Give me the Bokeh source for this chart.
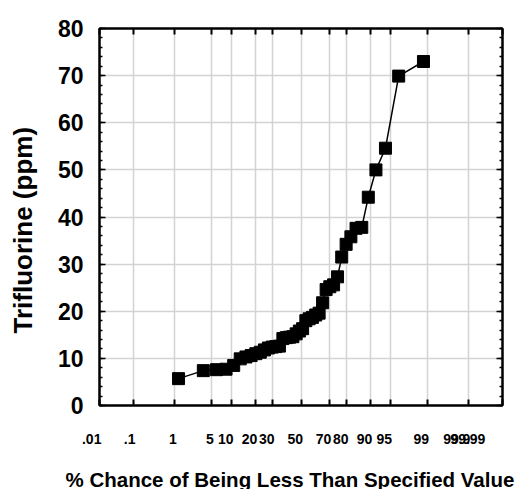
from statistics import NormalDist
from bokeh.plotting import figure
from bokeh.models import FixedTicker, LinearAxis, Title, Range1d, SingleIntervalTicker
from bokeh.embed import file_html
from bokeh.resources import INLINE

# cumulative probability (%) of each sorted sample and its value
pct = [1.19, 3.57, 5.95, 8.33, 10.71, 13.10, 15.48, 17.86, 20.24, 22.62,
       25.00, 27.38, 29.76, 32.14, 34.52, 36.90, 39.29, 41.67, 44.05, 46.43,
       48.81, 51.19, 53.57, 55.95, 58.33, 60.71, 63.10, 65.48, 67.86, 70.24,
       72.62, 75.00, 77.38, 79.76, 82.14, 84.52, 86.90, 89.29, 91.67, 94.05,
       96.43, 98.81]
ppm = [5.7, 7.4, 7.6, 7.7, 8.5, 9.9, 10.3, 10.6, 11.0, 11.3,
       11.8, 12.2, 12.4, 12.5, 12.6, 14.2, 14.4, 14.5, 14.6, 15.2,
       15.8, 16.3, 18.0, 18.4, 18.7, 19.2, 19.6, 21.8, 24.6, 25.2,
       25.6, 27.3, 31.5, 34.2, 35.8, 37.6, 37.8, 44.2, 50.0, 54.6,
       69.9, 73.0]

tick_pct = [0.01, 0.1, 1, 5, 10, 20, 30, 50, 70, 80, 90, 95, 99, 99.9, 99.99]
tick_labels = [".01", ".1", "1", "5", "10", "20", "30", "50", "70", "80",
               "90", "95", "99", "99.9", "99.99"]

nd = NormalDist()
def z(p):
    return round(nd.inv_cdf(p / 100.0), 6)

xs = [z(p) for p in pct]
xticks = [z(p) for p in tick_pct]

# labels sit to the left of their tick (right-aligned): pad with no-break spaces
def right_aligned(label):
    n = 2 * sum(c.isdigit() for c in label) + label.count(".") - 1
    return label + "\u00a0" * max(n, 0)

FONT = "Liberation Sans"

p = figure(frame_width=403, frame_height=377, output_backend="svg",
           toolbar_location=None,
           x_range=Range1d(xticks[0], xticks[-1]), y_range=Range1d(0, 80),
           min_border_left=99, min_border_right=14, min_border_top=28,
           min_border_bottom=84, x_axis_location=None, y_axis_location=None)
p.background_fill_color = "white"
p.border_fill_color = "white"
p.outline_line_color = "black"
p.outline_line_width = 2

xticker = FixedTicker(ticks=xticks, minor_ticks=[])
yticker = SingleIntervalTicker(interval=10, num_minor_ticks=5)

def hide_labels(ax):
    ax.major_label_text_color = None
    ax.major_label_text_font_size = "1px"
    ax.major_label_standoff = 0

def make_x_axis(show_labels):
    ax = LinearAxis(ticker=xticker)
    ax.axis_line_color = "black"
    ax.axis_line_width = 2
    ax.major_tick_in = 6
    ax.major_tick_out = 0
    ax.major_tick_line_color = "black"
    ax.major_tick_line_width = 2
    ax.minor_tick_line_color = None
    if show_labels:
        ax.major_label_overrides = {t: right_aligned(l) for t, l in zip(xticks, tick_labels)}
        ax.major_label_text_font = FONT
        ax.major_label_text_font_style = "bold"
        ax.major_label_text_font_size = "14px"
        ax.major_label_text_color = "black"
        ax.major_label_standoff = 25
    else:
        hide_labels(ax)
    return ax

def make_y_axis(show_labels):
    ax = LinearAxis(ticker=yticker)
    ax.axis_line_color = "black"
    ax.axis_line_width = 2
    ax.major_tick_in = 6
    ax.major_tick_out = 0
    ax.major_tick_line_color = "black"
    ax.major_tick_line_width = 1.5
    ax.minor_tick_in = 3
    ax.minor_tick_out = 0
    ax.minor_tick_line_color = "black"
    ax.minor_tick_line_width = 1.5
    if show_labels:
        ax.major_label_text_font = FONT
        ax.major_label_text_font_style = "bold"
        ax.major_label_text_font_size = "23px"
        ax.major_label_text_color = "black"
        ax.major_label_standoff = 16
    else:
        hide_labels(ax)
    return ax

def make_spacer(ticker, gap):
    # an empty axis that only reserves room between tick labels and title
    ax = LinearAxis(ticker=ticker)
    ax.axis_line_color = None
    ax.major_tick_in = 0
    ax.major_tick_out = gap
    ax.major_tick_line_color = None
    ax.minor_tick_line_color = None
    hide_labels(ax)
    return ax

p.add_layout(make_x_axis(True), "below")
p.add_layout(make_spacer(xticker, 15), "below")
p.add_layout(make_x_axis(False), "above")
p.add_layout(make_y_axis(True), "left")
p.add_layout(make_spacer(yticker, 16), "left")
p.add_layout(make_y_axis(False), "right")

p.xgrid.ticker = xticker
p.ygrid.ticker = yticker
p.xgrid.grid_line_color = "#d3d3d3"
p.ygrid.grid_line_color = "#d3d3d3"
p.xgrid.grid_line_width = 1.5
p.ygrid.grid_line_width = 1.5

p.add_layout(Title(text="% Chance of Being Less Than Specified Value",
                   align="left", offset=-34, text_font=FONT,
                   text_font_style="bold", text_font_size="20.5px",
                   text_color="black", standoff=2), "below")
p.add_layout(Title(text="Trifluorine (ppm)", align="left", offset=72,
                   text_font=FONT, text_font_style="bold",
                   text_font_size="26px", text_color="black", standoff=2), "left")

p.line(xs, ppm, line_color="black", line_width=1.5)
p.scatter(xs, ppm, marker="square", size=12, fill_color="black", line_color="black")

open("out.html", "w").write(file_html(p, INLINE))
